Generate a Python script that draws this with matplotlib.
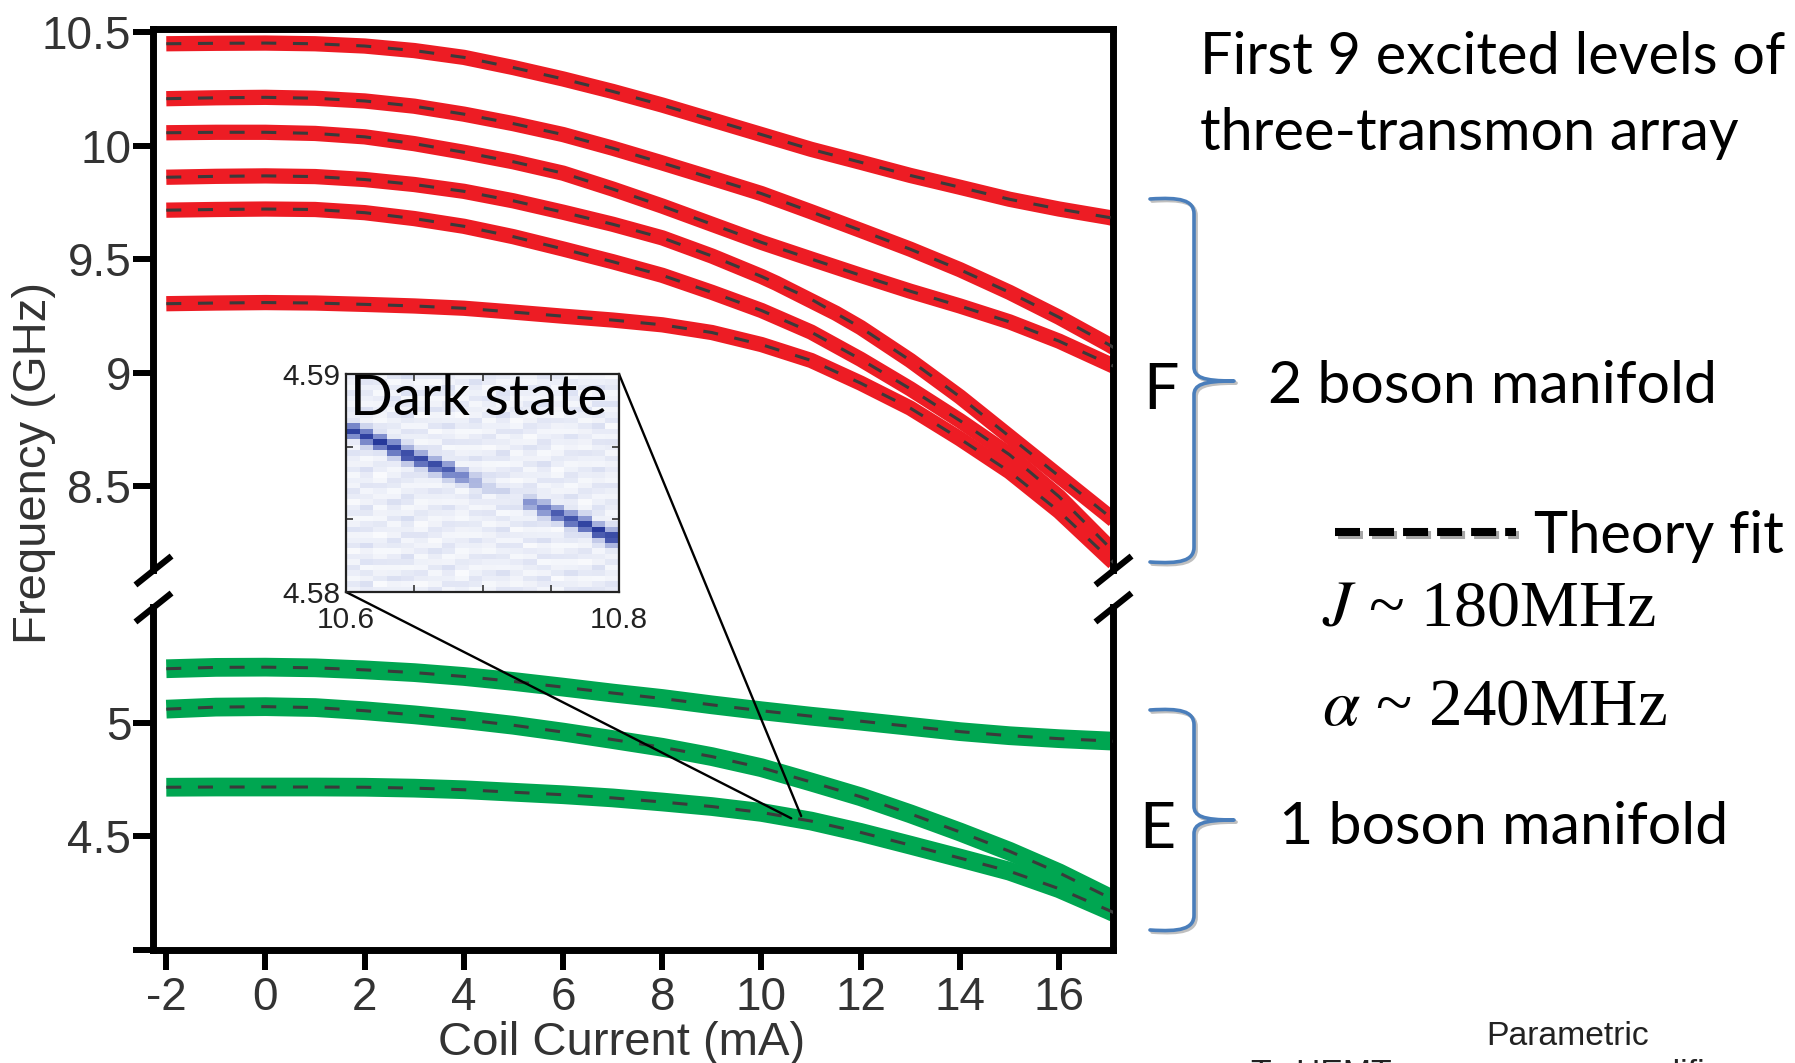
import numpy as np
import matplotlib
matplotlib.use("Agg")
import matplotlib.pyplot as plt
import matplotlib.patheffects as pe
from matplotlib.path import Path
from matplotlib.patches import PathPatch, ConnectionPatch
from matplotlib.lines import Line2D
from matplotlib.colors import LinearSegmentedColormap

plt.rcParams["font.family"] = ["Liberation Sans", "DejaVu Sans"]
plt.rcParams["lines.scale_dashes"] = False
plt.rcParams["mathtext.fontset"] = "stix"

# ---------------- data ----------------
coil_current = [-2, -1, 0, 1, 2, 3, 4, 5, 6, 7, 8, 9, 10, 11, 12, 13, 14, 15, 16, 17, 17.1]

# two-boson manifold (GHz)
f2_1 = [10.45, 10.452, 10.453, 10.45, 10.44, 10.42, 10.39, 10.345, 10.295, 10.24, 10.18,
        10.115, 10.05, 9.985, 9.928, 9.87, 9.818, 9.765, 9.722, 9.685, 9.68]
f2_2 = [10.208, 10.212, 10.214, 10.21, 10.198, 10.175, 10.14, 10.098, 10.05, 9.99, 9.925,
        9.858, 9.79, 9.71, 9.628, 9.545, 9.455, 9.355, 9.245, 9.125, 9.112]
f2_3 = [10.058, 10.06, 10.06, 10.055, 10.04, 10.01, 9.972, 9.93, 9.88, 9.81, 9.735,
        9.655, 9.575, 9.502, 9.43, 9.36, 9.295, 9.225, 9.14, 9.04, 9.03]
f2_4 = [9.862, 9.866, 9.868, 9.865, 9.852, 9.83, 9.80, 9.758, 9.708, 9.655, 9.595,
        9.515, 9.425, 9.325, 9.2, 9.055, 8.895, 8.72, 8.545, 8.37, 8.352]
f2_5 = [9.717, 9.72, 9.722, 9.72, 9.706, 9.68, 9.646, 9.60, 9.546, 9.49, 9.43,
        9.355, 9.275, 9.18, 9.06, 8.93, 8.79, 8.64, 8.455, 8.235, 8.21]
f2_6 = [9.305, 9.308, 9.31, 9.308, 9.302, 9.295, 9.285, 9.268, 9.25, 9.233, 9.212,
        9.178, 9.125, 9.055, 8.955, 8.845, 8.71, 8.565, 8.39, 8.185, 8.165]

# level 4 is not observed between these currents (dark state)
f2_4_meas_current = [-2, -1, 0, 1, 2, 3, 4, 5, 6, 7, 8, 9, 10, 10.3,
                     11.5, 12, 13, 14, 15, 16, 17, 17.1]
f2_4_meas = [9.862, 9.866, 9.868, 9.865, 9.852, 9.83, 9.80, 9.758, 9.708, 9.655, 9.595,
             9.515, 9.425, 9.395, 9.263, 9.2, 9.055, 8.895, 8.72, 8.545, 8.37, 8.352]

# one-boson manifold (GHz)
f1_1 = [5.239, 5.245, 5.246, 5.243, 5.234, 5.222, 5.205, 5.183, 5.158, 5.132, 5.108,
        5.08, 5.054, 5.03, 5.008, 4.985, 4.962, 4.944, 4.931, 4.921, 4.92]
f1_2 = [5.061, 5.07, 5.072, 5.068, 5.054, 5.036, 5.015, 4.99, 4.96, 4.927, 4.893,
        4.852, 4.803, 4.74, 4.675, 4.60, 4.52, 4.435, 4.34, 4.232, 4.22]
f1_3 = [4.717, 4.718, 4.718, 4.718, 4.717, 4.713, 4.706, 4.695, 4.684, 4.67, 4.652,
        4.632, 4.606, 4.568, 4.518, 4.462, 4.405, 4.347, 4.27, 4.175, 4.165]

x_ticks = [-2, 0, 2, 4, 6, 8, 10, 12, 14, 16]
y_ticks_hi = [8.5, 9, 9.5, 10, 10.5]
y_ticks_lo = [4.0, 4.5, 5]
y_ticklabels_hi = ["8.5", "9", "9.5", "10", "10.5"]
y_ticklabels_lo = ["", "4.5", "5"]

# dark-state spectroscopy inset: 20 current columns from 10.6 to 10.8 mA
dark_current_range = [10.6, 10.8]
dark_freq_range = [4.58, 4.59]
dark_peak_ghz = [4.58739, 4.58713, 4.58686, 4.58659, 4.58629, 4.58606, 4.58581, 4.58558,
                 4.58532, 4.58505, 4.58483, 4.58457, 4.5843, 4.58407, 4.5838, 4.58359,
                 4.58332, 4.58309, 4.58279, 4.58252]
dark_peak_amp = [0.85, 0.9, 0.92, 0.88, 0.88, 0.85, 0.82, 0.72, 0.5, 0.3, 0.12, 0.05,
                 0.05, 0.4, 0.55, 0.75, 0.82, 0.88, 0.92, 0.95]
dark_row_bg = [0.06, 0.10, 0.04, 0.08, 0.12, 0.05, 0.09, 0.03, 0.11, 0.07, 0.05, 0.13,
               0.06, 0.04, 0.10, 0.08, 0.03, 0.09, 0.12, 0.05, 0.07, 0.04, 0.10, 0.06,
               0.08, 0.13, 0.05, 0.03, 0.09, 0.11, 0.06, 0.04, 0.08, 0.10, 0.05, 0.07,
               0.12, 0.04, 0.06, 0.09]
dark_col_bg = [0.04, 0.08, 0.02, 0.06, 0.09, 0.03, 0.05, 0.07, 0.02, 0.06, 0.04, 0.08,
               0.03, 0.05, 0.07, 0.02, 0.06, 0.04, 0.08, 0.05]

# ---------------- figure ----------------
W, H = 1795, 1063
fig = plt.figure(figsize=(W / 100, H / 100), dpi=100)


def fx(px):
    return px / W


def fy(py):
    return 1 - py / H


LEFT, RIGHT = 152.7, 1113
ax_hi = fig.add_axes([fx(LEFT), fy(570), (RIGHT - LEFT) / W, (570 - 29) / H])
ax_lo = fig.add_axes([fx(LEFT), fy(950), (RIGHT - LEFT) / W, (950 - 607) / H])

TICK_COL = "#333333"
for ax in (ax_hi, ax_lo):
    ax.set_xlim(-2.274, 17.087)
    for sp in ax.spines.values():
        sp.set_linewidth(5)
        sp.set_color("k")
    ax.tick_params(axis="y", direction="out", length=14.4, width=4.3,
                   labelsize=33, pad=1, labelcolor=TICK_COL)
    ax.tick_params(axis="x", direction="out", length=14.4, width=4.3,
                   labelsize=33, pad=4, labelcolor=TICK_COL)
    ax.tick_params(right=False, top=False)

ax_hi.set_ylim(8.132, 10.515)
ax_lo.set_ylim(4.0, 5.511)
ax_hi.spines["bottom"].set_visible(False)
ax_lo.spines["top"].set_visible(False)
ax_hi.set_xticks([])
ax_lo.set_xticks(x_ticks)
ax_lo.set_xticklabels([str(v) for v in x_ticks])
ax_hi.set_yticks(y_ticks_hi)
ax_hi.set_yticklabels(y_ticklabels_hi)
ax_lo.set_yticks(y_ticks_lo)
ax_lo.set_yticklabels(y_ticklabels_lo)

# axis-break marks
brk = dict(marker=[(-1, -0.8), (1, 0.8)], markersize=26, linestyle="none",
           color="k", mec="k", mew=4.5, clip_on=False, zorder=10)
ax_hi.plot([0, 1], [0, 0], transform=ax_hi.transAxes, **brk)
ax_lo.plot([0, 1], [1, 1], transform=ax_lo.transAxes, **brk)

RED = "#ed1c24"
GREEN = "#00a651"
FIT = "#3a3a3a"
fit_style = dict(color=FIT, lw=2.2, dashes=(10.8, 12), zorder=3)

# measured two-boson levels + fit
for f in (f2_1, f2_2, f2_3, f2_5, f2_6):
    ax_hi.plot(coil_current, f, color=RED, lw=11, solid_capstyle="butt",
               solid_joinstyle="round", zorder=2)
f4m = np.array(f2_4_meas, dtype=float)
c4m = np.array(f2_4_meas_current, dtype=float)
f4m_plot = np.where((c4m > 10.3) & (c4m < 11.5), np.nan, f4m)
ax_hi.plot(c4m, f4m_plot, color=RED, lw=11, solid_capstyle="butt",
           solid_joinstyle="round", zorder=2)
for f in (f2_1, f2_2, f2_3, f2_4, f2_5, f2_6):
    ax_hi.plot(coil_current, f, **fit_style)

# measured one-boson levels + fit
for f in (f1_1, f1_2, f1_3):
    ax_lo.plot(coil_current, f, color=GREEN, lw=13.5, solid_capstyle="butt",
               solid_joinstyle="round", zorder=2)
    ax_lo.plot(coil_current, f, **fit_style)

# axis labels
fig.text(fx(34), fy(463), "Frequency (GHz)", rotation=90, ha="center", va="center",
         fontsize=34, color=TICK_COL)
fig.text(fx(622), fy(1055), "Coil Current (mA)", ha="center", va="baseline",
         fontsize=34, color=TICK_COL)

# ---------------- dark-state inset ----------------
ax_in = fig.add_axes([fx(346), fy(592), (619 - 346) / W, (592 - 374) / H], zorder=5)
n_rows, n_cols = len(dark_row_bg), len(dark_peak_ghz)
row_f = dark_freq_range[0] + (np.arange(n_rows) + 0.5) * (
    (dark_freq_range[1] - dark_freq_range[0]) / n_rows)
bg = np.array([[dark_row_bg[(r + 3 * c) % n_rows] * (0.7 + 4 * dark_col_bg[c])
                for c in range(n_cols)] for r in range(n_rows)])
peak = np.array(dark_peak_ghz)[None, :]
amp = np.array(dark_peak_amp)[None, :]
img = bg + amp * np.exp(-0.5 * ((row_f[:, None] - peak) / 0.00022) ** 2)
img = np.clip(img, 0, 1)
cmap = LinearSegmentedColormap.from_list(
    "pale_blue", [(0, "#ffffff"), (0.12, "#dce1f3"), (0.5, "#7d8ccd"), (1.0, "#25389a")])
ax_in.imshow(img, extent=dark_current_range + dark_freq_range, origin="lower",
             aspect="auto", cmap=cmap, vmin=0, vmax=1, interpolation="nearest")
ax_in.set_xlim(dark_current_range)
ax_in.set_ylim(dark_freq_range)
ax_in.set_xticks(dark_current_range)
ax_in.set_xticklabels(["10.6", "10.8"])
ax_in.set_yticks(dark_freq_range)
ax_in.set_yticklabels(["4.58", "4.59"])
ax_in.set_xticks([10.65, 10.7, 10.75], minor=True)
ax_in.set_yticks([4.58333, 4.58667], minor=True)
ax_in.tick_params(which="major", length=0, labelsize=21.5, labelcolor="#222222")
ax_in.tick_params(axis="x", which="major", pad=10)
ax_in.tick_params(axis="y", which="major", pad=4)
ax_in.tick_params(which="minor", direction="in", length=5, width=1.2,
                  top=True, right=True, color="#333333")
for sp in ax_in.spines.values():
    sp.set_linewidth(1.6)
    sp.set_color("#222222")

renderer = fig.canvas.get_renderer()


def fit_text(x, y, s, width, family, host=None, ha="left", va="baseline", **kw):
    host = host if host is not None else fig
    kw.setdefault("color", "black")
    if host is fig:
        t = fig.text(fx(x), fy(y), s, ha=ha, va=va, fontsize=30, family=family, **kw)
    else:
        t = host.text(fx(x), fy(y), s, ha=ha, va=va, fontsize=30, family=family,
                      transform=fig.transFigure, **kw)
    w = t.get_window_extent(renderer).width
    t.set_fontsize(30 * width / w)
    return t


fit_text(350, 415, "Dark state", 257, "Lato", host=ax_in)

# zoom connectors from the inset to the dark-state region
for a_pt, b_pt in (((0, 0), (10.6, 4.58)), ((1, 1), (10.8, 4.59))):
    con = ConnectionPatch(xyA=a_pt, coordsA="axes fraction", axesA=ax_in,
                          xyB=b_pt, coordsB="data", axesB=ax_lo,
                          color="k", lw=1.7, zorder=4)
    fig.add_artist(con)

# ---------------- annotations on the right ----------------
t1 = fit_text(1200, 74, "First 9 excited levels of", 584, "Lato")
fig.text(fx(1200), fy(150), "three-transmon array", fontsize=t1.get_fontsize(),
         family="Lato", va="baseline")

fig.text(fx(1143), fy(409), "F", fontsize=45, family="Lato", va="baseline")
fig.text(fx(1139), fy(848), "E", fontsize=45, family="Lato", va="baseline")
fit_text(1268, 403, "2 boson manifold", 449, "Lato")
fit_text(1279, 844, "1 boson manifold", 450, "Lato")


def brace(y_top, y_mid, y_bot, x_tip=1150, x_v=1194, x_beak=1234):
    pts = [
        (x_tip, y_top + 1),
        (x_tip + 30, y_top - 1), (x_v, y_top + 2), (x_v, y_top + 16),
        (x_v, y_mid - 14),
        (x_v, y_mid - 4), (x_v + 8, y_mid), (x_beak, y_mid),
        (x_v + 8, y_mid), (x_v, y_mid + 4), (x_v, y_mid + 14),
        (x_v, y_bot - 16),
        (x_v, y_bot - 2), (x_tip + 30, y_bot + 1), (x_tip, y_bot - 1),
    ]
    codes = ([Path.MOVETO] + [Path.CURVE4] * 3 + [Path.LINETO] + [Path.CURVE4] * 6
             + [Path.LINETO] + [Path.CURVE4] * 3)
    verts = [(fx(px), fy(py)) for px, py in pts]
    patch = PathPatch(Path(verts, codes), transform=fig.transFigure, fill=False,
                      edgecolor="#4a7ebb", lw=2.6, capstyle="round", joinstyle="round",
                      path_effects=[pe.SimpleLineShadow(offset=(1.5, -1.5), alpha=0.25),
                                    pe.Normal()])
    fig.add_artist(patch)


brace(198, 381, 563)
brace(709, 820, 931)

# legend entry for the fit
leg = Line2D([fx(1335), fx(1516)], [fy(532), fy(532)], transform=fig.transFigure,
             color="k", lw=5.8, dashes=(18, 6.5), dash_capstyle="butt",
             path_effects=[pe.SimpleLineShadow(offset=(2, -2.5), alpha=0.35),
                           pe.Normal()])
fig.add_artist(leg)
fit_text(1534, 553, "Theory fit", 250, "Lato")

fit_text(1322, 625, r"$J$ ~ 180MHz", 335, "Liberation Serif")
fit_text(1322, 725, r"$\alpha$ ~ 240MHz", 346, "Liberation Serif")

# neighbouring schematic labels at the lower edge
tp = fit_text(1486, 1045, "Parametric", 163, "Liberation Sans", color="#222222")
fig.text(fx(1251), fy(1083), "To HEMT", fontsize=tp.get_fontsize(), va="baseline",
         color="#222222")
fig.text(fx(1608), fy(1083), "amplifier", fontsize=tp.get_fontsize(), va="baseline",
         color="#222222")

fig.savefig("out.png", dpi=100)
